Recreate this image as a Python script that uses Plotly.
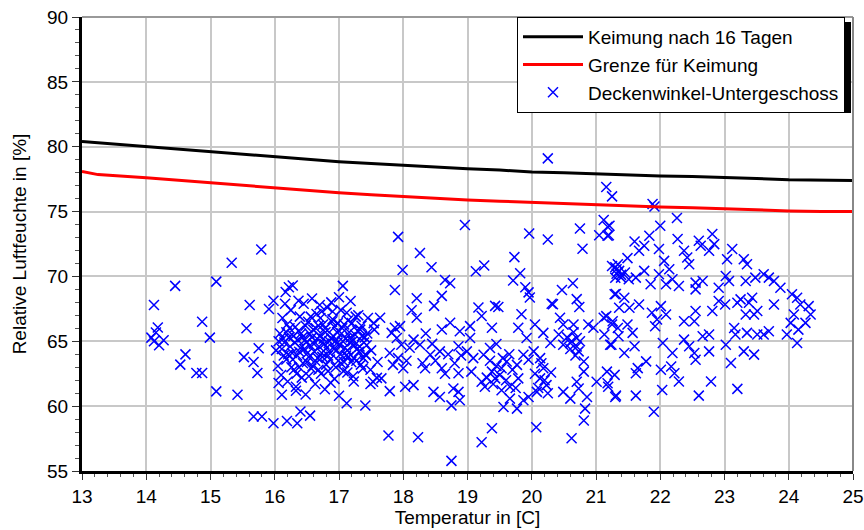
import plotly.graph_objects as go

# ---- Kurven ----
kurve_t = [13.0, 13.5, 14.0, 14.5, 15.0, 15.5, 16.0, 16.5, 17.0, 17.5, 18.0, 18.5, 19.0,
           19.5, 20.0, 20.5, 21.0, 21.5, 22.0, 22.5, 23.0, 23.5, 24.0, 24.5, 25.0]
keimung_16 = [80.40, 80.20, 80.00, 79.80, 79.60, 79.40, 79.25, 79.00, 78.85, 78.70, 78.55, 78.40, 78.30,
              78.20, 78.05, 78.00, 77.90, 77.80, 77.75, 77.70, 77.65, 77.55, 77.45, 77.40, 77.40]
grenze_t = [13.0, 13.25, 14.0, 14.5, 15.0, 15.5, 16.0, 16.5, 17.0, 17.5, 18.0, 18.5, 19.0,
            19.5, 20.0, 20.5, 21.0, 21.5, 22.0, 22.5, 23.0, 23.5, 24.0, 24.5, 25.0]
grenze = [78.10, 77.85, 77.60, 77.40, 77.20, 77.00, 76.80, 76.60, 76.45, 76.30, 76.15, 76.00, 75.90,
          75.80, 75.70, 75.60, 75.55, 75.45, 75.35, 75.30, 75.20, 75.10, 75.05, 75.00, 75.00]

# ---- Messpunkte (Temperatur, rel. Feuchte) nach Bereichen ----
punkte_links = [
    (15.79, 72.07), (15.33, 71.06), (14.45, 69.27), (15.09, 69.60), (14.12, 67.80), (15.61, 67.80),
    (14.87, 66.50), (14.18, 66.06), (14.15, 65.67), (14.08, 65.28), (14.27, 65.08), (14.20, 64.70),
    (14.12, 65.00), (14.99, 65.28), (15.56, 66.00), (14.61, 63.99), (14.53, 63.20), (14.78, 62.56),
    (14.87, 62.56), (15.09, 61.14), (15.42, 60.88), (15.52, 63.78), (15.75, 64.46), (15.67, 63.40),
    (15.73, 62.56), (15.91, 67.49), (15.98, 68.13), (15.67, 59.20), (15.80, 59.20), (15.98, 58.68),
]
punkte_cluster = [
    (16.22, 69.17), (16.37, 68.13), (17.06, 69.27), (16.19, 58.86), (16.35, 58.68), (16.40, 59.59),
    (16.55, 59.27), (17.12, 60.23), (17.41, 60.05), (16.06, 61.79), (16.11, 60.88), (16.33, 61.19),
    (17.49, 61.71), (17.59, 62.18),
    (16.02, 64.3), (16.05, 63.1), (16.08, 65.6), (16.10, 62.4), (16.12, 66.8), (16.15, 64.9),
    (16.18, 63.6), (16.20, 61.9), (16.22, 65.3), (16.25, 67.4), (16.27, 64.1), (16.30, 62.8),
    (16.32, 66.1), (16.35, 63.9), (16.37, 65.8), (16.40, 64.5), (16.42, 62.2), (16.45, 67.9),
    (16.47, 65.1), (16.50, 63.4), (16.52, 66.5), (16.55, 64.7), (16.57, 62.9), (16.60, 65.9),
    (16.62, 64.2), (16.65, 67.1), (16.67, 63.7), (16.70, 65.4), (16.72, 62.5), (16.75, 66.3),
    (16.77, 64.8), (16.80, 63.2), (16.82, 67.6), (16.85, 65.0), (16.87, 61.8), (16.90, 66.7),
    (16.92, 64.4), (16.95, 63.0), (16.97, 65.7), (17.00, 68.4), (17.02, 64.0), (17.05, 66.0),
    (17.07, 62.7), (17.10, 65.2), (17.12, 67.2), (17.15, 63.8), (17.17, 64.9), (17.20, 66.4),
    (17.22, 62.3), (17.25, 65.5), (17.27, 63.5), (17.30, 67.0), (17.32, 64.6), (17.35, 66.2),
    (17.37, 62.9), (17.40, 65.3), (17.42, 63.9), (17.45, 66.8), (17.50, 64.3), (17.55, 65.9),
    (17.60, 63.4),
    (16.06, 65.0), (16.14, 63.9), (16.19, 66.3), (16.24, 64.6), (16.29, 65.4), (16.34, 62.5),
    (16.39, 66.9), (16.44, 63.3), (16.49, 64.9), (16.54, 65.6), (16.59, 63.1), (16.64, 66.0),
    (16.69, 64.6), (16.74, 63.8), (16.79, 65.7), (16.84, 64.2), (16.89, 66.5), (16.94, 65.0),
    (16.99, 63.5), (17.04, 65.6), (17.09, 64.5), (17.14, 66.6), (17.19, 63.4), (17.24, 64.7),
    (17.29, 65.8), (17.34, 63.2), (17.39, 64.9), (17.44, 65.6), (17.49, 62.8), (17.54, 66.4),
    (16.11, 64.4), (16.21, 64.0), (16.31, 64.9), (16.41, 65.6), (16.51, 64.1), (16.61, 64.8),
    (16.71, 66.8), (16.81, 64.5), (16.91, 65.4), (17.01, 64.7), (17.11, 63.9), (17.21, 65.0),
    (17.31, 64.2), (17.41, 64.0), (16.36, 65.1), (16.56, 66.9), (16.76, 65.2), (16.96, 64.3),
    (17.16, 65.7), (17.36, 65.4), (16.46, 64.4), (16.66, 65.2), (16.86, 63.6), (17.06, 65.0),
    (17.26, 66.9), (16.26, 63.0), (16.16, 67.9), (16.58, 68.3), (16.88, 68.0), (17.18, 68.1),
    (16.33, 61.5), (16.63, 61.7), (16.93, 62.1), (17.23, 61.9), (16.48, 60.9), (16.78, 61.3),
    (17.00, 60.8), (16.90, 67.3), (16.70, 67.8), (16.28, 69.3), (16.17, 68.8),
    (16.13, 65.2), (16.23, 66.0), (16.28, 63.6), (16.38, 64.2), (16.43, 65.3), (16.53, 63.8),
    (16.58, 65.3), (16.63, 63.5), (16.68, 66.2), (16.73, 64.1), (16.78, 66.0), (16.83, 63.9),
    (16.88, 65.2), (16.93, 66.1), (16.98, 64.9), (17.03, 63.3), (17.08, 66.3), (17.13, 64.3),
    (17.18, 65.3), (17.23, 63.7), (17.28, 64.4), (17.33, 65.9), (17.38, 63.7), (17.43, 64.7),
    (16.18, 65.7), (16.48, 66.2), (16.68, 62.8), (16.98, 66.4), (17.08, 63.4), (16.38, 63.0),
    (16.53, 62.3), (16.83, 62.7), (17.13, 62.6), (16.73, 67.3), (17.03, 67.4),
]
punkte_mitte = [
    (20.25, 79.10), (21.16, 76.90), (21.25, 76.17), (18.96, 73.96), (17.92, 73.05), (19.96, 73.31),
    (20.25, 72.84), (20.75, 73.70), (21.12, 74.35), (21.18, 73.83), (21.05, 73.18), (21.20, 73.18),
    (20.79, 72.14), (18.26, 71.80), (17.99, 70.50), (18.44, 70.71), (19.13, 70.40), (19.26, 70.84),
    (19.73, 71.49), (19.82, 70.25), (19.71, 69.68), (18.65, 69.73), (18.73, 69.47), (17.87, 68.95),
    (18.60, 68.50), (18.48, 67.73), (19.90, 69.16), (19.95, 68.77), (19.97, 68.38), (20.47, 68.95),
    (20.64, 69.47), (20.70, 68.25), (20.74, 67.65), (20.31, 67.90), (21.30, 70.71), (21.32, 70.20),
    (21.31, 68.64), (18.21, 68.32), (18.13, 67.39), (18.21, 66.82), (17.64, 66.82), (17.87, 66.04),
    (17.95, 66.17), (17.82, 65.65), (17.90, 65.26), (17.97, 64.74), (17.79, 64.09), (17.92, 63.70),
    (17.84, 63.18), (18.00, 62.92), (17.66, 62.14), (17.53, 61.88), (17.79, 61.16), (18.03, 61.49),
    (18.16, 61.62), (18.16, 65.13), (18.26, 64.74), (18.42, 63.96), (18.34, 62.92), (18.57, 64.22),
    (18.60, 62.92), (18.60, 65.91), (18.73, 66.43), (18.47, 61.10), (18.57, 60.71), (18.75, 60.06),
    (18.86, 61.10), (18.88, 60.45), (18.88, 65.78), (19.04, 66.17), (18.86, 64.61), (18.99, 64.22),
    (19.04, 65.26), (19.09, 63.70), (19.06, 62.66), (18.86, 62.53), (19.17, 67.60), (19.22, 66.95),
    (19.43, 67.73), (19.48, 67.65), (19.38, 66.04), (19.35, 64.48), (19.45, 64.79), (19.25, 63.96),
    (19.22, 61.88), (19.27, 61.49), (19.38, 62.66), (19.43, 62.14), (19.53, 62.92), (19.61, 63.44),
    (19.53, 61.23), (19.66, 61.49), (19.56, 59.94), (19.77, 59.81), (19.87, 60.45), (19.79, 62.14),
    (19.77, 63.18), (19.87, 63.96), (19.95, 63.57), (19.84, 67.08), (19.79, 66.04), (19.92, 65.26),
    (20.05, 66.30), (20.18, 65.65), (20.29, 64.87), (20.13, 63.70), (20.03, 64.22), (20.18, 62.92),
    (20.13, 62.14), (20.23, 61.62), (20.08, 61.10), (19.95, 60.71), (20.33, 67.86), (20.44, 66.82),
    (20.49, 66.30), (20.42, 65.52), (20.49, 64.74), (20.60, 64.87), (20.70, 65.26), (20.65, 66.30),
    (20.73, 64.22), (20.81, 63.44), (20.88, 66.30), (20.96, 66.04), (20.81, 62.66), (20.70, 61.88),
    (20.73, 61.36), (20.86, 60.71), (20.83, 59.81), (20.81, 58.90), (20.49, 61.10), (20.60, 60.58),
    (21.01, 61.88), (21.19, 61.49), (21.30, 60.71), (21.12, 66.82), (21.25, 66.30), (21.22, 64.74),
    (21.35, 65.39), (21.17, 62.66), (17.77, 57.73), (18.23, 57.60), (18.75, 55.78), (19.22, 57.21),
    (19.38, 58.30), (20.07, 58.38), (20.62, 57.52), (18.78, 61.36), (19.66, 60.58),
    (18.05, 63.5), (18.10, 64.5), (18.30, 63.3), (18.35, 65.6), (18.50, 63.5), (18.45, 64.8),
    (18.70, 64.0), (18.65, 62.5), (18.80, 63.3), (18.90, 63.9), (19.30, 62.2), (19.40, 61.7),
    (19.45, 63.1), (19.50, 62.4), (19.55, 63.7), (19.60, 62.0), (19.70, 62.8), (19.75, 61.4),
    (19.35, 63.5), (19.65, 64.0), (20.05, 62.5), (20.10, 61.4), (20.15, 63.3), (20.20, 62.0),
    (20.25, 61.0), (20.30, 62.6), (20.55, 65.3), (20.60, 64.4), (20.65, 65.7), (20.70, 64.6),
    (20.75, 65.0), (20.62, 65.0), (20.68, 63.9),
]
punkte_rechts = [
    (21.88, 75.59), (21.91, 75.39), (22.26, 74.51), (22.00, 73.91), (21.21, 73.91), (21.18, 73.14),
    (21.60, 72.70), (21.75, 72.36), (21.83, 73.14), (21.67, 71.98), (21.98, 72.11), (21.49, 71.41),
    (21.34, 70.94), (21.32, 70.56), (21.39, 70.12), (21.51, 69.78), (21.62, 69.91), (21.75, 70.43),
    (22.06, 71.20), (22.14, 70.56), (21.98, 70.17), (21.85, 69.39), (22.09, 69.39), (22.19, 69.78),
    (22.29, 69.26), (22.27, 72.88), (22.37, 71.98), (22.42, 71.46), (22.45, 70.94), (22.60, 72.75),
    (22.63, 72.36), (22.81, 73.27), (22.84, 72.49), (22.76, 71.98), (22.55, 69.52), (22.66, 69.65),
    (22.55, 69.00), (22.91, 69.13), (23.02, 70.04), (23.07, 69.65), (23.04, 71.33), (23.12, 72.11),
    (23.30, 71.33), (23.35, 70.94), (23.33, 69.65), (23.48, 69.91), (23.61, 70.17), (23.69, 69.91),
    (23.77, 69.65), (23.87, 69.13), (24.05, 68.62), (24.13, 68.36), (24.18, 67.84), (24.31, 67.71),
    (24.34, 67.07), (24.26, 66.42), (24.15, 65.90), (24.13, 64.87), (23.97, 65.52), (24.03, 66.42),
    (24.08, 67.07), (23.77, 67.84), (23.69, 65.78), (23.61, 65.52), (23.51, 65.52), (23.43, 68.36),
    (23.38, 67.97), (23.25, 68.23), (23.20, 67.97), (23.46, 67.07), (23.33, 67.07), (23.51, 67.33),
    (23.35, 65.65), (23.15, 66.03), (23.17, 65.52), (22.91, 68.10), (23.01, 67.84), (22.81, 67.33),
    (22.55, 67.33), (22.53, 66.55), (22.37, 66.55), (22.01, 67.71), (22.09, 67.07), (21.95, 66.68),
    (21.87, 67.20), (21.92, 66.16), (21.67, 67.84), (21.52, 67.58), (21.44, 68.36), (21.29, 68.62),
    (21.36, 67.58), (21.26, 66.55), (21.34, 66.03), (21.49, 66.29), (21.57, 65.65), (21.16, 66.94),
    (21.13, 65.52), (21.24, 64.74), (21.44, 64.10), (21.60, 64.61), (22.04, 64.87), (22.19, 64.10),
    (22.37, 65.13), (22.45, 64.61), (22.53, 64.10), (22.55, 63.58), (22.66, 65.39), (22.76, 65.52),
    (22.76, 64.22), (23.02, 64.74), (23.10, 63.32), (23.30, 64.22), (23.46, 63.97), (21.78, 63.45),
    (21.65, 62.93), (21.62, 62.54), (21.29, 62.41), (21.18, 61.77), (21.31, 60.81), (21.62, 60.81),
    (22.01, 62.80), (22.17, 63.06), (22.22, 62.54), (22.29, 61.90), (22.03, 61.25), (22.60, 60.81),
    (22.79, 61.90), (23.20, 61.33), (21.90, 59.57), (21.36, 70.43), (21.39, 69.91), (21.25, 70.8),
    (21.30, 69.9), (21.45, 70.3),
]

alle = punkte_links + punkte_cluster + punkte_mitte + punkte_rechts
mess_t = [p[0] for p in alle]
mess_rh = [p[1] for p in alle]

FONT = "Liberation Sans, Arial, sans-serif"

fig = go.Figure()
fig.add_trace(go.Scatter(x=mess_t, y=mess_rh, mode="markers", name="Deckenwinkel-Untergeschoss",
                         legendrank=3,
                         marker=dict(symbol="x-thin", size=10, color="#0000ff",
                                     line=dict(color="#0000ff", width=1.5))))
fig.add_trace(go.Scatter(x=kurve_t, y=keimung_16, mode="lines", name="Keimung nach 16 Tagen",
                         legendrank=1, line=dict(color="black", width=3)))
fig.add_trace(go.Scatter(x=grenze_t, y=grenze, mode="lines", name="Grenze für Keimung",
                         legendrank=2, line=dict(color="#ff0000", width=3)))

axis_common = dict(showgrid=True, gridcolor="#c8c8c8", gridwidth=1.5,
                   showline=True, linecolor="black", linewidth=3,
                   ticks="outside", tickcolor="#333", tickwidth=1,
                   tickfont=dict(size=19, color="black", family=FONT),
                   zeroline=False, automargin=False)

fig.update_xaxes(range=[13, 25], dtick=1, tick0=13, ticklen=6,
                 minor=dict(dtick=0.2, ticks="outside", ticklen=3, tickcolor="#555", showgrid=False),
                 title=dict(text="Temperatur in [C]", font=dict(size=19, family=FONT, color="black"), standoff=2),
                 **axis_common)
fig.update_yaxes(range=[55, 90], dtick=5, tick0=55, ticklen=7,
                 minor=dict(dtick=1, ticks="outside", ticklen=4, tickcolor="#555", showgrid=False),
                 title=dict(text="Relative Luftfeuchte in [%]", font=dict(size=19, family=FONT, color="black"), standoff=16),
                 **axis_common)

# plot frame top/right (grey)
fig.add_shape(type="line", xref="paper", yref="paper", x0=0, x1=1, y0=1, y1=1,
              line=dict(color="#999999", width=2), layer="above")
fig.add_shape(type="line", xref="paper", yref="paper", x0=1, x1=1, y0=0, y1=1,
              line=dict(color="#888888", width=2), layer="above")

# pixel -> paper coordinate helpers (plot area in page pixels)
PL, PW, PT, PH = 82.0, 771.0, 17.0, 454.0
def px_x(p):
    return (p - PL) / PW
def px_y(p):
    return (PT + PH - p) / PH

lx0 = px_x(517)
# legend drop shadow
fig.add_shape(type="rect", xref="paper", yref="paper",
              x0=px_x(522), x1=px_x(851), y0=px_y(113), y1=px_y(22),
              fillcolor="black", line=dict(width=0), layer="above")

fig.update_layout(
    width=864, height=530,
    margin=dict(l=82, r=11, t=17, b=59),
    plot_bgcolor="white", paper_bgcolor="white",
    font=dict(family=FONT, size=19, color="black"),
    showlegend=True,
    legend=dict(x=lx0, y=1, xanchor="left", yanchor="top", bgcolor="white",
                bordercolor="black", borderwidth=1, itemwidth=60,
                font=dict(size=19, family=FONT, color="black"),
                tracegroupgap=0),
)

fig.write_html("out.html", config={"displayModeBar": False},
               post_script="document.body.style.margin='0';document.body.style.overflow='hidden';")
